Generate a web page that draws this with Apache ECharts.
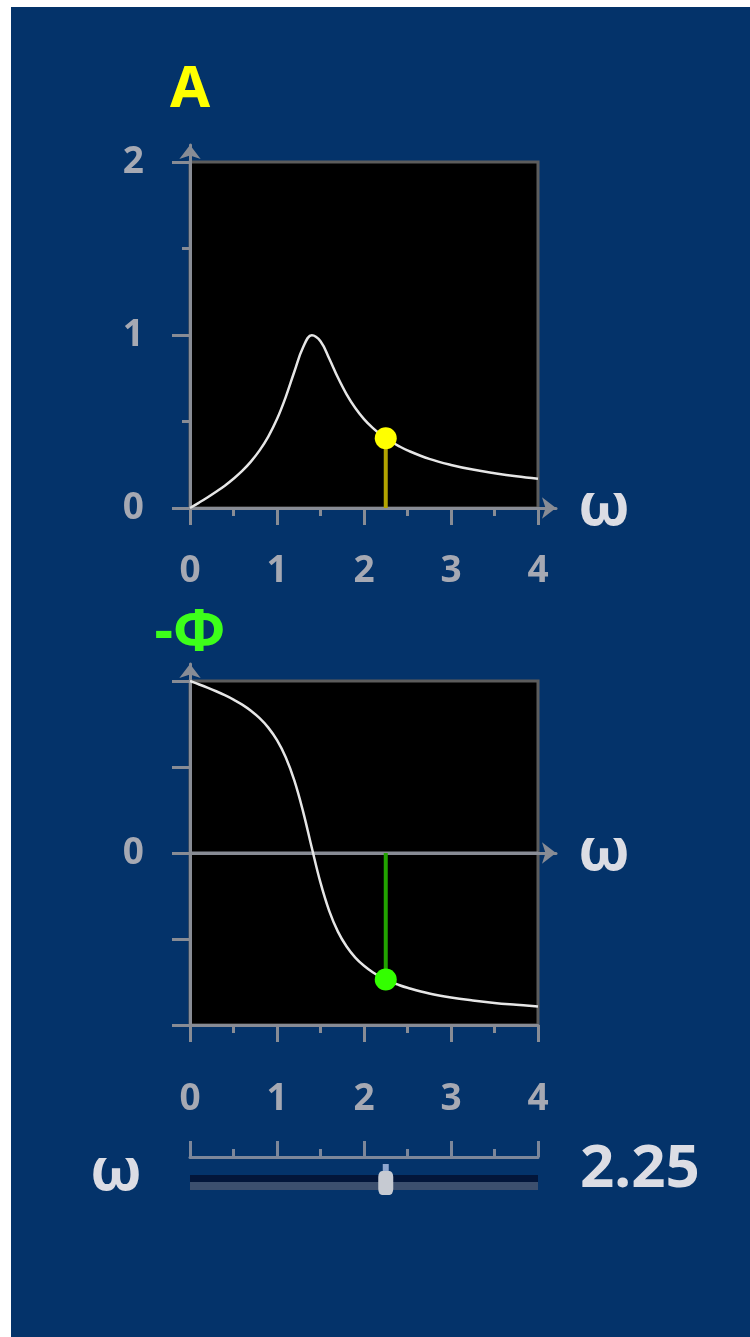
<!DOCTYPE html>
<html>
<head>
<meta charset="utf-8">
<script src="https://cdn.jsdelivr.net/npm/echarts@6/dist/echarts.min.js"></script>
<style>
  html, body { margin: 0; padding: 0; background: #ffffff; }
  #panel { position: absolute; left: 11px; top: 7px; width: 739px; height: 1330px; background: #04336a; }
  #chart { position: absolute; left: 0; top: 0; width: 750px; height: 1337px; }
</style>
</head>
<body>
<div id="panel"></div>
<div id="chart"></div>
<script>
// driving frequency samples
const omega = [0, 0.1, 0.2, 0.3, 0.4, 0.5, 0.6, 0.7, 0.8, 0.9,
  1.0, 1.1, 1.2, 1.3, 1.4, 1.5, 1.6, 1.7, 1.8, 1.9,
  2.0, 2.1, 2.2, 2.3, 2.4, 2.5, 2.75, 3.0, 3.25, 3.5, 3.75, 4.0];
const amplitude = [0, 0.030, 0.061, 0.094, 0.129, 0.169, 0.214, 0.268, 0.333, 0.413,
  0.514, 0.641, 0.789, 0.929, 0.999, 0.964, 0.864, 0.754, 0.657, 0.578,
  0.514, 0.463, 0.421, 0.387, 0.358, 0.333, 0.284, 0.249, 0.222, 0.201, 0.183, 0.169];
// phase -Φ (rad)
const phase = [1.571, 1.541, 1.510, 1.477, 1.441, 1.401, 1.355, 1.299, 1.231, 1.145,
  1.030, 0.875, 0.661, 0.378, 0.048, -0.271, -0.528, -0.718, -0.854, -0.955,
  -1.030, -1.089, -1.136, -1.174, -1.205, -1.231, -1.283, -1.320, -1.347, -1.369, -1.386, -1.402];
// current slider position
const omegaNow = 2.25;
const ampNow = 0.403;
const phaseNow = -1.155;
const xTicks = [0, 1, 2, 3, 4];

const axisGray = "#888c95";
const labelGray = "#a6a9b3";
const fontFamily = "'Noto Sans', 'DejaVu Sans', sans-serif";

function pairs(xs, ys) {
  return xs.map((x, i) => [x, ys[i]]);
}

const tickAxisX = (grid, margin) => ({
  type: "value",
  gridIndex: grid,
  min: xTicks[0],
  max: xTicks[xTicks.length - 1],
  interval: 1,
  axisLine: { show: true, onZero: false, lineStyle: { color: axisGray, width: 3 } },
  axisTick: { show: true, length: 17, lineStyle: { color: axisGray, width: 3 } },
  minorTick: { show: true, splitNumber: 2, length: 8, lineStyle: { color: axisGray, width: 3 } },
  splitLine: { show: false },
  axisLabel: { color: labelGray, fontSize: 37, fontWeight: "bold", fontFamily: fontFamily, margin: margin }
});

const arrowAxis = (grid, name, nameGap, nameStyle) => ({
  type: "value",
  gridIndex: grid,
  min: 0,
  max: 1,
  name: name,
  nameLocation: "end",
  nameGap: nameGap,
  nameTextStyle: nameStyle,
  axisLine: {
    show: true,
    onZero: false,
    symbol: ["none", "arrow"],
    symbolSize: [16, 14],
    lineStyle: { color: axisGray, width: 3 }
  },
  axisTick: { show: false },
  axisLabel: { show: false },
  splitLine: { show: false }
});

const omegaName = { color: "#dcdde4", fontSize: 60, fontWeight: "bold", fontFamily: fontFamily, align: "left", verticalAlign: "middle" };

const myChart = echarts.init(document.getElementById("chart"));
const option = {
  backgroundColor: "transparent",
  animation: false,
  grid: [
    { left: 190, top: 162, width: 348, height: 346, show: true, backgroundColor: "#000000", borderColor: "#5c5c5c", borderWidth: 3 },
    { left: 190, top: 681, width: 348, height: 344, show: true, backgroundColor: "#000000", borderColor: "#5c5c5c", borderWidth: 3 },
    { left: 190, top: 145, width: 366, height: 363 },
    { left: 190, top: 664, width: 366, height: 189 },
    { left: 190, top: 1157, width: 348, height: 40 }
  ],
  xAxis: [
    tickAxisX(0, 45),
    tickAxisX(1, 56),
    arrowAxis(2, "ω", 22, omegaName),
    arrowAxis(3, "ω", 22, omegaName),
    {
      type: "value",
      gridIndex: 4,
      position: "top",
      min: 0,
      max: 4,
      interval: 1,
      axisLine: { show: true, onZero: false, lineStyle: { color: "#7d879a", width: 3 } },
      axisTick: { show: true, length: 16, lineStyle: { color: "#7d879a", width: 3 } },
      minorTick: { show: true, splitNumber: 2, length: 8, lineStyle: { color: "#7d879a", width: 3 } },
      axisLabel: { show: false },
      splitLine: { show: false }
    }
  ],
  yAxis: [
    {
      type: "value",
      gridIndex: 0,
      min: 0,
      max: 2,
      interval: 1,
      axisLine: { show: true, onZero: false, lineStyle: { color: axisGray, width: 3 } },
      axisTick: { show: true, length: 18, lineStyle: { color: axisGray, width: 3 } },
      minorTick: { show: true, splitNumber: 2, length: 8, lineStyle: { color: axisGray, width: 3 } },
      splitLine: { show: false },
      axisLabel: { color: labelGray, fontSize: 37, fontWeight: "bold", fontFamily: fontFamily, margin: 46 }
    },
    {
      type: "value",
      gridIndex: 1,
      min: -Math.PI / 2,
      max: Math.PI / 2,
      interval: Math.PI / 4,
      axisLine: { show: true, onZero: false, lineStyle: { color: axisGray, width: 3 } },
      axisTick: { show: true, length: 18, lineStyle: { color: axisGray, width: 3 } },
      splitLine: { show: false },
      axisLabel: {
        color: labelGray, fontSize: 37, fontWeight: "bold", fontFamily: fontFamily, margin: 46,
        formatter: v => (Math.abs(v) < 1e-6 ? "0" : "")
      }
    },
    arrowAxis(2, "A", 26, { color: "#ffff00", fontSize: 58, fontWeight: "bold", fontFamily: fontFamily, align: "center" }),
    arrowAxis(3, "-Φ", 2, { color: "#3dff1a", fontSize: 58, fontWeight: "bold", fontFamily: fontFamily, align: "center" }),
    { type: "value", gridIndex: 4, min: 0, max: 40, inverse: true, show: false }
  ],
  series: [
    {
      type: "line", xAxisIndex: 0, yAxisIndex: 0, data: pairs(omega, amplitude),
      smooth: 0.4, showSymbol: false, lineStyle: { color: "#e6e6e6", width: 2.5 }, z: 3
    },
    {
      type: "line", xAxisIndex: 1, yAxisIndex: 1, data: pairs(omega, phase),
      smooth: 0.4, showSymbol: false, lineStyle: { color: "#e6e6e6", width: 2.5 }, z: 3
    },
    // zero line of the phase plot
    {
      type: "line", xAxisIndex: 1, yAxisIndex: 1, data: [[0, 0], [4, 0]],
      showSymbol: false, lineStyle: { color: axisGray, width: 3 }, z: 2
    },
    {
      type: "line", xAxisIndex: 0, yAxisIndex: 0, data: [[omegaNow, 0], [omegaNow, ampNow]],
      showSymbol: false, lineStyle: { color: "#b3a300", width: 4 }, z: 4
    },
    {
      type: "scatter", xAxisIndex: 0, yAxisIndex: 0, data: [[omegaNow, ampNow]],
      symbolSize: 22, itemStyle: { color: "#ffff00", opacity: 1 }, z: 5
    },
    {
      type: "line", xAxisIndex: 1, yAxisIndex: 1, data: [[omegaNow, 0], [omegaNow, phaseNow]],
      showSymbol: false, lineStyle: { color: "#22a300", width: 4 }, z: 4
    },
    {
      type: "scatter", xAxisIndex: 1, yAxisIndex: 1, data: [[omegaNow, phaseNow]],
      symbolSize: 22, itemStyle: { color: "#33ff00", opacity: 1 }, z: 5
    },
    // slider track
    {
      type: "line", xAxisIndex: 4, yAxisIndex: 4, data: [[0, 21.5], [4, 21.5]],
      showSymbol: false, lineStyle: { color: "#03163a", width: 7, cap: "butt" }
    },
    {
      type: "line", xAxisIndex: 4, yAxisIndex: 4, data: [[0, 29], [4, 29]],
      showSymbol: false, lineStyle: { color: "#3c4f6e", width: 8, cap: "butt" }
    },
    // slider thumb
    {
      type: "scatter", xAxisIndex: 4, yAxisIndex: 4, data: [[omegaNow, 12]],
      symbol: "rect", symbolSize: [6, 10], itemStyle: { color: "#8ea6cf", opacity: 1 }, z: 5
    },
    {
      type: "scatter", xAxisIndex: 4, yAxisIndex: 4, data: [[omegaNow, 26]],
      symbol: "roundRect", symbolSize: [15, 24], itemStyle: { color: "#c6cad2", opacity: 1 }, z: 6
    }
  ],
  graphic: [
    {
      type: "text", left: 90, top: 1143,
      style: { text: "ω", fill: "#dcdde4", font: "bold 60px " + fontFamily }
    },
    {
      type: "text", left: 580, top: 1140,
      style: { text: omegaNow.toFixed(2), fill: "#dcdde4", font: "bold 60px " + fontFamily }
    }
  ]
};
myChart.setOption(option);
</script>
</body>
</html>
